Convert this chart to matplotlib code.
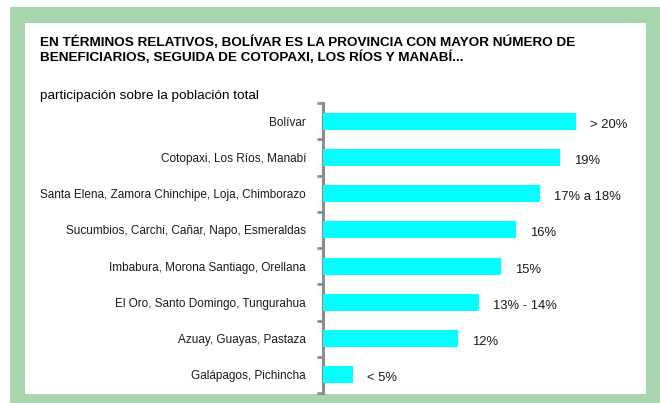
import matplotlib
matplotlib.use('Agg')
import matplotlib.pyplot as plt
from matplotlib.patches import Rectangle
from matplotlib import font_manager as fm

# ---------------------------------------------------------------
# Datos
# ---------------------------------------------------------------
provincias = ['Bolívar',
              'Cotopaxi, Los Ríos, Manabí',
              'Santa Elena, Zamora Chinchipe, Loja, Chimborazo',
              'Sucumbios, Carchi, Cañar, Napo, Esmeraldas',
              'Imbabura, Morona Santiago, Orellana',
              'El Oro, Santo Domingo, Tungurahua',
              'Azuay, Guayas, Pastaza',
              'Galápagos, Pichincha']
participacion = [20.3, 19.0, 17.4, 15.5, 14.3, 12.5, 10.8, 2.4]
etiquetas = ['> 20%', '19%', '17% a 18%', '16%', '15%', '13% - 14%', '12%', '< 5%']

titulo = ('EN TÉRMINOS RELATIVOS, BOLÍVAR ES LA PROVINCIA CON MAYOR NÚMERO DE\n'
          'BENEFICIARIOS, SEGUIDA DE COTOPAXI, LOS RÍOS Y MANABÍ...')
subtitulo = 'participación sobre la población total'

# ---------------------------------------------------------------
# Estilo
# ---------------------------------------------------------------
VERDE = '#A6D5AE'
CIAN = '#00FFFF'
GRIS = '#8C8C8C'

nombres = {f.name for f in fm.fontManager.ttflist}
fuente = 'Liberation Sans Narrow' if 'Liberation Sans Narrow' in nombres else 'Liberation Sans'
plt.rcParams['font.family'] = [fuente, 'DejaVu Sans']

W, H = 660, 403
fig = plt.figure(figsize=(W / 100, H / 100), dpi=100, facecolor='white')

# marco verde con interior blanco
fig.patches.append(Rectangle((10 / W, 0), 1, 1 - 7 / H, transform=fig.transFigure,
                             facecolor=VERDE, edgecolor='none', zorder=-2))
fig.patches.append(Rectangle((25 / W, 1 - 394 / H), (646 - 25) / W, (394 - 23) / H,
                             transform=fig.transFigure, facecolor='white',
                             edgecolor='none', zorder=-1))

fig.text(40 / W, 1 - 36 / H, titulo, fontsize=9.7, fontweight='bold',
         family='Liberation Sans', ha='left', va='top', linespacing=1.1)
fig.text(40 / W, 1 - 96 / H, subtitulo, fontsize=9.7, ha='left', va='center')

# ---------------------------------------------------------------
# Barras
# ---------------------------------------------------------------
x0, x1 = 322.7, 640
y0, y1 = 103, 393
ax = fig.add_axes([x0 / W, 1 - y1 / H, (x1 - x0) / W, (y1 - y0) / H], zorder=2)
ax.patch.set_alpha(0)

pos = range(len(provincias))
barras = ax.barh(pos, participacion, height=0.47, color=CIAN, zorder=3)
ax.set_xlim(0, (x1 - x0) / 12.5)
ax.set_ylim(len(provincias) - 0.5, -0.5)

for b, txt in zip(barras, etiquetas):
    ax.annotate(txt, xy=(b.get_width(), b.get_y() + b.get_height() / 2),
                xytext=(10, -2.5), textcoords='offset points',
                ha='left', va='center', fontsize=9.4, color='#1a1a1a')

ax.set_yticks([i - 0.5 for i in range(len(provincias) + 1)])
ax.set_yticklabels([])
ax.set_yticks(list(pos), provincias, minor=True)
ax.tick_params(axis='y', which='major', length=4, width=2, color=GRIS, direction='out')
ax.tick_params(axis='y', which='minor', length=0, pad=12, labelsize=8.5, labelcolor='#1a1a1a')
ax.set_xticks([])

for s in ['top', 'right', 'bottom']:
    ax.spines[s].set_visible(False)
ax.spines['left'].set_color(GRIS)
ax.spines['left'].set_linewidth(2.2)

fig.savefig('out.png', dpi=100, facecolor='white')
